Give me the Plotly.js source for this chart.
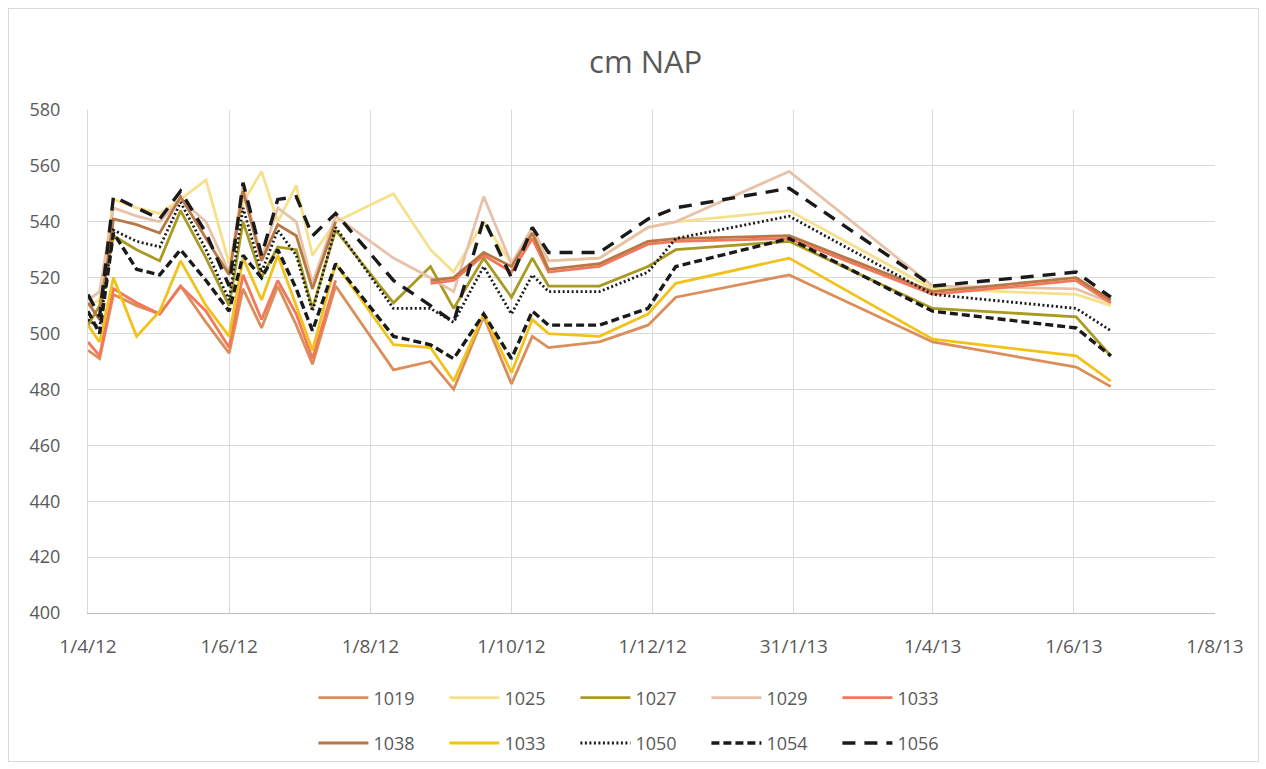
<!DOCTYPE html>
<html>
<head>
<meta charset="utf-8">
<script src="https://cdn.plot.ly/plotly-3.0.1.min.js"></script>
<style>
  html, body { margin: 0; padding: 0; background: #fff; }
  #wrap { position: relative; width: 1266px; height: 769px; }
  #chart { width: 1266px; height: 769px; }
  #frame { position: absolute; left: 8px; top: 8px; width: 1249px; height: 752px;
           border: 1px solid #d9d9d9; pointer-events: none; }
</style>
</head>
<body>
<div id="wrap"><div id="chart"></div><div id="frame"></div></div>
<script>
// Sample dates (shared by all series)
const dates = ['2012-04-01','2012-04-06','2012-04-12','2012-04-22','2012-05-02','2012-05-11',
  '2012-05-22','2012-06-01','2012-06-07','2012-06-15','2012-06-22','2012-06-30','2012-07-07',
  '2012-07-17','2012-08-11','2012-08-27','2012-09-06','2012-09-19','2012-10-01','2012-10-10',
  '2012-10-17','2012-11-08','2012-11-29','2012-12-11','2013-01-29','2013-04-01','2013-06-02',
  '2013-06-17'];

// Series values (cm NAP)
const s1019  = [494,491,514,510,507,517,504,493,516,502,517,503,489,517,487,490,480,506,482,499,495,497,503,513,521,497,488,481];
const s1025  = [510,512,548,545,543,548,555,525,547,558,540,553,528,540,550,530,522,540,525,535,526,527,538,540,544,516,514,510];
const s1027  = [503,510,535,530,526,544,527,510,540,520,531,530,509,537,511,524,509,527,513,527,517,517,524,530,533,509,506,492];
const s1029  = [512,515,545,542,540,548,540,522,553,527,545,540,518,542,527,520,515,549,525,538,526,527,538,540,558,517,516,511];
const s1033a = [497,492,516,511,507,517,508,495,521,505,519,507,491,519,null,518,519,528,522,534,522,524,532,533,534,514,519,511];
const s1038  = [511,505,541,539,536,549,534,521,551,526,539,535,516,540,null,519,520,529,524,536,523,525,533,534,535,515,520,512];
const s1033b = [503,497,520,499,508,526,510,499,527,512,528,510,494,525,496,495,483,507,486,505,500,499,507,518,527,498,492,483];
const s1050  = [505,502,537,533,531,547,530,512,545,522,537,528,508,538,509,509,504,524,507,521,515,515,522,534,542,514,509,501];
const s1054  = [508,500,536,523,521,530,519,508,528,520,530,516,501,525,499,496,491,507,491,508,503,503,509,524,534,508,502,492];
const s1056  = [514,506,549,545,541,551,536,517,554,528,548,549,535,543,519,510,504,541,520,538,529,529,541,545,552,517,522,513];

const names = ['1019','1025','1027','1029','1033','1038','1033','1050','1054','1056'];

// X-axis ticks
const tickDates = ['2012-04-01','2012-06-01','2012-08-01','2012-10-01','2012-12-01','2013-01-31','2013-04-01','2013-06-01','2013-08-01'];
const tickLabels = ['1/4/12','1/6/12','1/8/12','1/10/12','1/12/12','31/1/13','1/4/13','1/6/13','1/8/13'];

const seriesList = [s1019,s1025,s1027,s1029,s1033a,s1038,s1033b,s1050,s1054,s1056];
const styles = [
  {color:'#DC8E5A', width:2.8, dash:'solid'},
  {color:'#F7E08C', width:2.8, dash:'solid'},
  {color:'#A99A22', width:2.8, dash:'solid'},
  {color:'#E8C2A8', width:2.8, dash:'solid'},
  {color:'#F2775B', width:2.8, dash:'solid'},
  {color:'#B97744', width:2.8, dash:'solid'},
  {color:'#F2C21A', width:2.8, dash:'solid'},
  {color:'#1a1a1a', width:2.8, dash:'2px,2.5px'},
  {color:'#1a1a1a', width:3.4, dash:'8px,4px'},
  {color:'#1a1a1a', width:3.4, dash:'13px,9px'}
];

const traces = seriesList.map((ys, i) => ({
  type: 'scatter', mode: 'lines', x: dates, y: ys, name: names[i],
  line: Object.assign({}, styles[i]),
  connectgaps: false,
  legend: i < 5 ? 'legend' : 'legend2',
  hoverinfo: 'x+y+name'
}));

const fontFam = 'Open Sans, Liberation Sans, sans-serif';
const legendCommon = {
  orientation: 'h', xanchor: 'left', yanchor: 'middle',
  font: {family: fontFam, size: 18, color: '#595959'},
  bgcolor: 'rgba(0,0,0,0)', entrywidth: 66, entrywidthmode: 'pixels', itemwidth: 50
};

const layout = {
  width: 1266, height: 769,
  paper_bgcolor: '#fff', plot_bgcolor: '#fff',
  margin: {l: 88, r: 51, t: 110, b: 156, autoexpand: false},
  title: {text: 'cm NAP', x: 0.51, xref: 'container', xanchor: 'center',
          y: 0.919, yref: 'container', yanchor: 'middle',
          font: {family: fontFam, size: 31, color: '#595959'}},
  xaxis: {
    type: 'date', range: ['2012-04-01','2013-08-01'],
    tickmode: 'array', tickvals: tickDates, ticktext: tickLabels,
    showgrid: true, gridcolor: '#d9d9d9', gridwidth: 1,
    showline: true, linecolor: '#bfbfbf', linewidth: 1,
    ticks: 'outside', ticklen: 16, tickcolor: 'rgba(0,0,0,0)', zeroline: false,
    tickfont: {family: fontFam, size: 19, color: '#595959'}
  },
  yaxis: {
    range: [400, 580], dtick: 20, tick0: 400,
    showgrid: true, gridcolor: '#d9d9d9', gridwidth: 1,
    showline: true, linecolor: '#d9d9d9', linewidth: 1,
    ticks: 'outside', ticklen: 23, tickcolor: 'rgba(0,0,0,0)', zeroline: false,
    tickfont: {family: fontFam, size: 18, color: '#595959'}
  },
  legend: Object.assign({x: 0.2, y: -0.169}, legendCommon),
  legend2: Object.assign({x: 0.2, y: -0.259}, legendCommon),
  showlegend: true
};

Plotly.newPlot('chart', traces, layout, {displayModeBar: false, staticPlot: true});
</script>
</body>
</html>
